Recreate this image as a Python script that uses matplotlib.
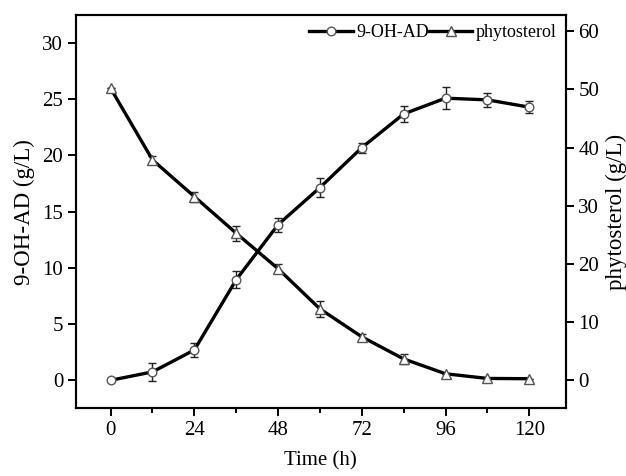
import numpy as np
import matplotlib.pyplot as plt
from matplotlib.lines import Line2D

plt.rcParams['font.family'] = ['Liberation Serif', 'DejaVu Serif']

# sampling times (h)
time = [0, 12, 24, 36, 48, 60, 72, 84, 96, 108, 120]

# 9-OH-AD concentration (g/L), left axis
oh_ad = [0.0, 0.75, 2.7, 8.95, 13.85, 17.15, 20.7, 23.7, 25.1, 24.95, 24.3]
oh_ad_err = [0.0, 0.77, 0.6, 0.78, 0.62, 0.83, 0.45, 0.7, 0.95, 0.6, 0.55]

# phytosterol concentration (g/L), right axis
phyto = [50.2, 37.9, 31.6, 25.3, 19.2, 12.3, 7.5, 3.7, 1.15, 0.35, 0.3]
phyto_err = [0.0, 0.6, 0.85, 1.3, 0.75, 1.4, 0.5, 0.85, 0.0, 0.0, 0.0]

fig = plt.figure(figsize=(6.26, 4.76), dpi=100)
ax = fig.add_axes([0.121, 0.142, 0.783, 0.8265])
ax2 = ax.twinx()

style = dict(color='black', lw=2.4, mfc='white', mec='#555555', mew=1.0)
ax.errorbar(time, oh_ad, yerr=oh_ad_err, marker='o', ms=6.2,
            ecolor='#222222', elinewidth=1.0, capsize=3, capthick=1.0,
            zorder=3, **style)
ax2.errorbar(time, phyto, yerr=phyto_err, marker='^', ms=6.8,
             ecolor='#222222', elinewidth=1.0, capsize=3, capthick=1.0,
             zorder=3, **style)

ax.set_xlim(-10, 130.5)
ax.set_ylim(-2.5, 32.5)
ax2.set_ylim(-4.8, 62.8)

ax.set_xticks([0, 24, 48, 72, 96, 120])
ax.set_xticks(np.arange(12, 120, 24), minor=True)
ax.set_yticks(np.arange(0, 31, 5))
ax2.set_yticks(np.arange(0, 61, 10))

for a in (ax, ax2):
    for s in a.spines.values():
        s.set_linewidth(1.5)
    a.tick_params(which='major', direction='out', length=6, width=1.4,
                  pad=3, labelsize=15)
    a.tick_params(which='minor', direction='out', length=3.5, width=1.4)

ax.set_xlabel('Time (h)', fontsize=15, labelpad=8)
ax.set_ylabel('9-OH-AD (g/L)', fontsize=16.5, labelpad=5)
ax2.set_ylabel('phytosterol (g/L)', fontsize=16.5, labelpad=5)

handles = [Line2D([], [], marker='o', ms=6.2, **style),
           Line2D([], [], marker='^', ms=6.8, **style)]
ax.legend(handles, ['9-OH-AD', 'phytosterol'], loc='upper right', ncol=2,
          frameon=False, fontsize=13, handlelength=2.4, handletextpad=0.2,
          columnspacing=0.0, borderaxespad=0.2, borderpad=0.3)

fig.savefig('out.png', dpi=100)
